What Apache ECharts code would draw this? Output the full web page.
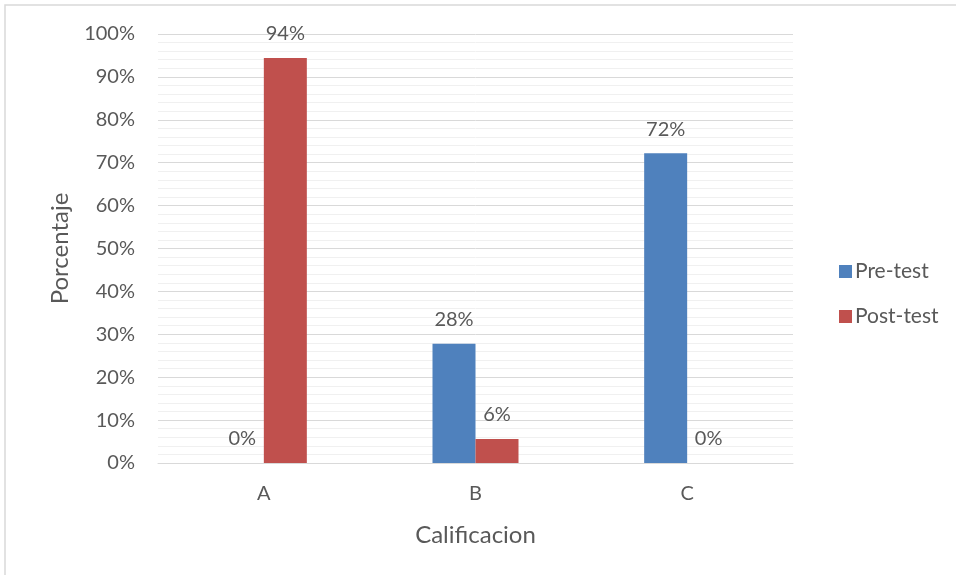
<!DOCTYPE html>
<html>
<head>
<meta charset="utf-8">
<script src="https://cdn.jsdelivr.net/npm/echarts@6/dist/echarts.min.js"></script>
<style>
html,body{margin:0;padding:0;background:#fff;}
#chart{width:956px;height:575px;}
</style>
</head>
<body>
<div id="chart"></div>
<script>
// Grade categories and percentage of students per test
const categories = ['A', 'B', 'C'];
const preTest = [0, 27.8, 72.2];
const postTest = [94.4, 5.6, 0];
const seriesNames = ['Pre-test', 'Post-test'];

const textColor = '#595959';
const font = 'Lato, "Open Sans", sans-serif';

const chart = echarts.init(document.getElementById('chart'));

const labelOpt = {
  show: true,
  position: 'top',
  distance: 14,
  color: textColor,
  fontSize: 20,
  fontFamily: font,
  formatter: p => Math.round(p.value) + '%'
};

chart.setOption({
  animation: false,
  textStyle: { fontFamily: font },
  graphic: [{
    type: 'polyline',
    shape: { points: [[5, 580], [5, 5], [960, 5]] },
    style: { stroke: '#d9d9d9', lineWidth: 1.5, fill: null },
    silent: true
  }],
  grid: { left: 158, right: 163, top: 34, bottom: 112 },
  legend: {
    orient: 'vertical',
    left: 834,
    top: 256,
    itemWidth: 13,
    itemHeight: 13,
    itemGap: 24,
    icon: 'rect',
    data: seriesNames,
    textStyle: { color: textColor, fontSize: 21, fontFamily: font, padding: [0, 0, 0, -2] }
  },
  xAxis: {
    type: 'category',
    data: categories,
    name: 'Calificacion',
    nameLocation: 'middle',
    nameGap: 60,
    nameTextStyle: { color: textColor, fontSize: 24, fontFamily: font },
    axisLine: { lineStyle: { color: '#d9d9d9', width: 1 } },
    axisTick: { show: false },
    axisLabel: { color: textColor, fontSize: 20, fontFamily: font, margin: 21 }
  },
  yAxis: {
    type: 'value',
    min: 0,
    max: 100,
    interval: 10,
    name: 'Porcentaje',
    nameLocation: 'middle',
    nameGap: 86,
    nameTextStyle: { color: textColor, fontSize: 24, fontFamily: font },
    axisLine: { show: false },
    axisTick: { show: false },
    axisLabel: { color: textColor, fontSize: 20, fontFamily: font, margin: 23, formatter: v => v + '%' },
    splitLine: { lineStyle: { color: '#d9d9d9', width: 1 } },
    minorTick: { show: false, splitNumber: 5 },
    minorSplitLine: { show: true, lineStyle: { color: '#f0f0f0', width: 1 } }
  },
  series: [
    {
      name: seriesNames[0],
      type: 'bar',
      data: preTest,
      barWidth: 43,
      barGap: '0%',
      itemStyle: { color: '#4f81bd' },
      label: labelOpt
    },
    {
      name: seriesNames[1],
      type: 'bar',
      data: postTest,
      barWidth: 43,
      barGap: '0%',
      itemStyle: { color: '#c0504d' },
      label: labelOpt
    }
  ]
});
</script>
</body>
</html>
